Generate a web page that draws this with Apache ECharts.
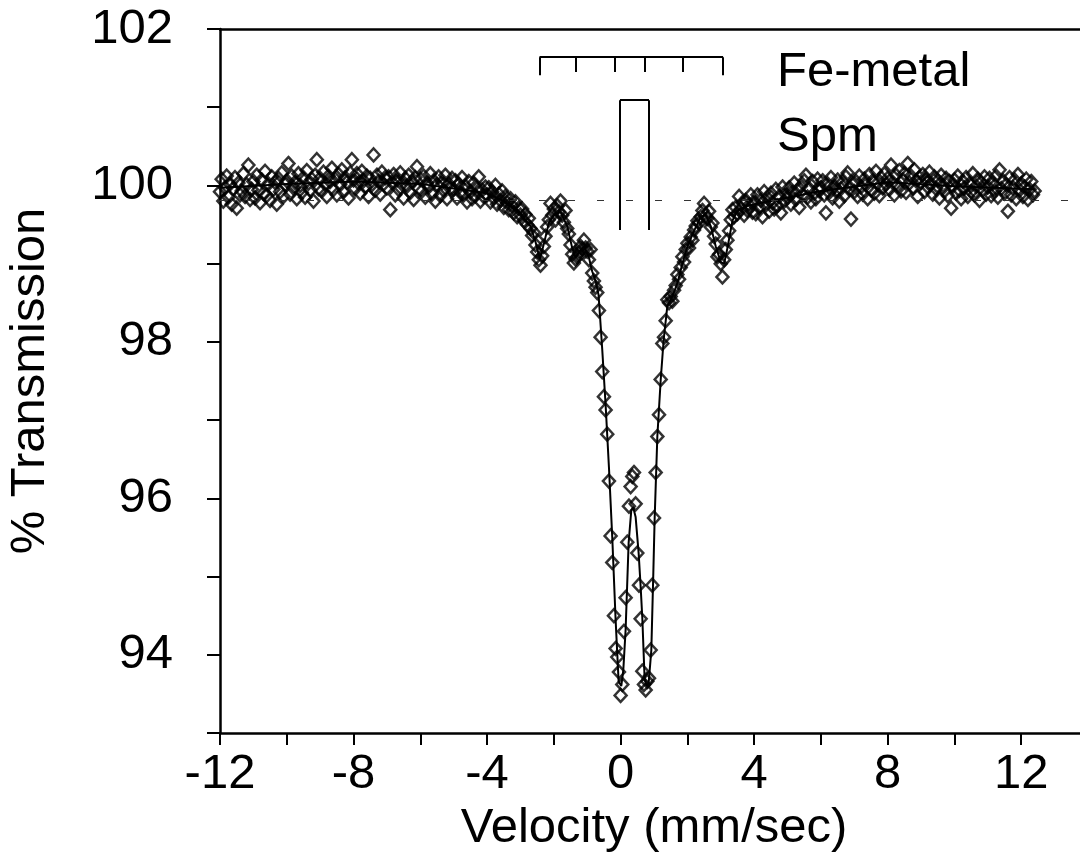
<!DOCTYPE html>
<html>
<head>
<meta charset="utf-8">
<title>Mossbauer spectrum</title>
<script src="https://cdn.jsdelivr.net/npm/echarts@6/dist/echarts.min.js"></script>
<style>
  html, body { margin: 0; padding: 0; background: #fff; }
  #chart { width: 1080px; height: 855px; }
</style>
</head>
<body>
<div id="chart"></div>
<script>
// first channel velocity and channel step (mm/sec)
const vStart = -12.0
const vStep = 0.05

// % transmission, one row per mm/sec starting at vStart
const transmission = [
  99.92, 100.08, 99.80, 99.97, 100.12, 99.85, 100.02, 99.76, 99.96, 100.10, 99.71, 100.03, 99.88, 99.93, 100.15, 99.86, 100.01, 100.26, 99.82, 99.95, // -12
  100.05, 99.84, 100.13, 99.94, 99.78, 100.07, 99.90, 100.18, 99.87, 100.02, 99.81, 100.11, 99.95, 100.04, 99.76, 100.09, 99.92, 100.16, 99.86, 100.01, // -11
  100.06, 100.28, 99.89, 100.12, 99.97, 100.04, 99.83, 100.15, 100.00, 99.91, 100.10, 99.85, 100.19, 100.03, 99.94, 100.08, 99.80, 100.13, 100.33, 99.96, // -10
  100.09, 99.93, 100.17, 100.02, 99.86, 100.12, 100.05, 100.22, 99.95, 100.08, 99.88, 100.14, 100.01, 100.20, 99.92, 100.10, 100.04, 99.84, 100.16, 100.33, // -9
  100.07, 99.96, 100.15, 100.03, 99.90, 100.18, 100.06, 99.98, 100.12, 99.86, 100.09, 100.01, 100.39, 99.94, 100.13, 100.05, 99.89, 100.17, 100.02, 100.10, // -8
  99.97, 100.11, 99.69, 100.04, 100.14, 99.88, 100.07, 99.95, 100.16, 100.02, 99.84, 100.09, 99.99, 100.13, 99.91, 100.05, 99.82, 100.10, 100.24, 99.96, // -7
  100.08, 99.93, 100.12, 99.85, 100.03, 99.98, 100.15, 99.89, 100.06, 99.80, 100.01, 100.11, 99.87, 100.04, 99.94, 100.13, 99.83, 100.02, 99.96, 100.09, // -6
  99.95, 100.06, 99.84, 100.02, 99.91, 100.10, 99.88, 99.99, 99.79, 100.05, 99.92, 99.83, 100.03, 99.87, 99.96, 100.11, 99.80, 99.94, 99.86, 99.98, // -5
  99.88, 99.97, 99.79, 99.92, 99.84, 100.00, 99.76, 99.89, 99.81, 99.93, 99.72, 99.86, 99.78, 99.69, 99.83, 99.74, 99.65, 99.79, 99.60, 99.71, // -4
  99.62, 99.70, 99.55, 99.63, 99.50, 99.58, 99.45, 99.36, 99.40, 99.24, 99.15, 99.05, 98.98, 99.10, 99.22, 99.35, 99.47, 99.56, 99.77, 99.62, // -3
  99.70, 99.56, 99.74, 99.66, 99.80, 99.62, 99.53, 99.68, 99.45, 99.38, 99.24, 99.12, 99.01, 99.06, 99.09, 99.14, 99.22, 99.19, 99.30, 99.20, // -2
  99.16, 99.05, 99.18, 98.88, 98.78, 98.70, 98.63, 98.40, 98.06, 97.62, 97.30, 97.13, 96.82, 96.22, 95.52, 95.18, 94.50, 94.08, 93.97, 93.78, // -1
  93.48, 93.62, 94.30, 94.73, 95.44, 95.90, 96.15, 96.28, 96.33, 95.93, 95.30, 94.89, 94.46, 93.79, 93.62, 93.55, 93.66, 93.70, 94.06, 94.89, // 0
  95.75, 96.33, 96.79, 97.07, 97.52, 97.98, 98.06, 98.27, 98.54, 98.50, 98.58, 98.52, 98.66, 98.72, 98.86, 98.80, 98.95, 99.09, 99.02, 99.18, // 1
  99.26, 99.20, 99.34, 99.30, 99.43, 99.48, 99.55, 99.52, 99.60, 99.68, 99.77, 99.62, 99.58, 99.67, 99.47, 99.52, 99.35, 99.25, 99.09, 99.12, // 2
  99.00, 98.83, 99.05, 99.18, 99.30, 99.42, 99.56, 99.69, 99.60, 99.72, 99.64, 99.86, 99.70, 99.78, 99.62, 99.81, 99.68, 99.75, 99.88, 99.66, // 3
  99.79, 99.64, 99.88, 99.72, 99.81, 99.60, 99.92, 99.75, 99.84, 99.67, 99.90, 99.78, 99.70, 99.95, 99.74, 99.86, 99.65, 99.98, 99.80, 99.89, // 4
  99.84, 99.97, 99.76, 99.91, 100.03, 99.82, 99.94, 99.72, 99.99, 99.88, 100.06, 100.13, 99.85, 99.96, 99.79, 100.05, 99.90, 99.83, 100.08, 99.93, // 5
  99.97, 100.06, 99.88, 99.65, 100.02, 99.91, 100.10, 99.84, 99.99, 99.93, 100.07, 99.80, 99.96, 100.04, 99.87, 100.11, 100.16, 99.95, 99.57, 100.01, // 6
  99.92, 100.05, 99.86, 100.12, 99.98, 99.89, 100.08, 100.01, 99.83, 100.14, 99.95, 100.06, 99.90, 100.18, 100.03, 99.87, 100.10, 99.97, 100.15, 100.02, // 7
  100.09, 99.95, 100.26, 100.04, 99.88, 100.13, 100.00, 100.19, 99.93, 100.07, 100.15, 99.91, 100.28, 100.03, 100.12, 99.97, 100.20, 100.06, 99.86, 100.10, // 8
  100.04, 100.14, 99.92, 100.08, 99.98, 100.17, 100.02, 99.89, 100.11, 99.96, 100.06, 99.84, 100.13, 100.00, 99.93, 100.09, 99.87, 100.05, 99.71, 99.99, // 9
  100.07, 99.90, 100.12, 99.94, 99.83, 100.05, 99.97, 100.10, 99.86, 100.02, 99.92, 100.15, 99.88, 99.99, 100.08, 99.81, 100.04, 99.95, 100.11, 99.89, // 10
  99.98, 100.09, 99.87, 100.03, 99.93, 100.12, 99.85, 100.20, 99.96, 100.06, 99.90, 100.01, 99.67, 100.10, 99.88, 99.97, 100.07, 99.83, 100.14, 99.94, // 11
  100.02, 99.86, 99.98, 100.08, 99.82, 99.95, 100.05, 99.88, 99.93 // 12
]

// fitted curve drawn through the data
const fitVelocity = [-12, -10, -8, -6, -4, -3.5, -3.0, -2.7, -2.55, -2.42, -2.3, -2.15, -2.0, -1.8, -1.6, -1.45, -1.35, -1.25, -1.1, -0.95, -0.85,
  -0.75, -0.66, -0.55, -0.45, -0.35, -0.25, -0.15, -0.06, 0.02, 0.08, 0.15, 0.24, 0.32, 0.38, 0.45, 0.54, 0.60, 0.65, 0.72, 0.78, 0.84,
  0.92, 0.98, 1.02, 1.10, 1.20, 1.29, 1.40, 1.55, 1.70, 1.85, 2.0, 2.2, 2.4, 2.55, 2.7, 2.85, 3.0, 3.1, 3.2, 3.35, 3.5, 3.8, 4.5, 6, 8, 10, 12.4]
const fitTransmission = [99.97, 100.02, 100.05, 100.02, 99.90, 99.80, 99.64, 99.48, 99.28, 99.06, 99.25, 99.52, 99.62, 99.66, 99.48, 99.20, 99.08, 99.15, 99.22, 99.08, 98.90,
  98.78, 98.60, 97.90, 97.20, 96.40, 95.50, 94.45, 93.66, 93.60, 93.80, 94.32, 95.43, 95.85, 95.88, 95.76, 95.30, 94.87, 94.47, 93.68, 93.60, 93.64,
  94.06, 95.05, 95.75, 96.79, 97.51, 98.03, 98.46, 98.58, 98.75, 99.00, 99.22, 99.42, 99.60, 99.62, 99.48, 99.22, 99.02, 99.00, 99.20, 99.55, 99.68, 99.74, 99.80, 99.93, 100.04, 99.99, 99.95]

// stick diagrams (line positions in mm/sec)
const feMetalLines = [-2.43, -1.35, -0.18, 0.72, 1.85, 3.07]
const feMetalBar = 101.64
const feMetalOuterEnd = 101.41
const feMetalInnerEnd = 101.45
const spmLines = [-0.02, 0.85]
const spmTop = 101.09
const spmBottom = 99.43
const baseline = 99.81

const FONT = "'Liberation Sans', Arial, Helvetica, sans-serif"

const points = transmission.map((t, i) => [+(vStart + i * vStep).toFixed(2), t])
const fitData = fitVelocity.map((v, i) => [v, fitTransmission[i]])

function seg(x1, y1, x2, y2) {
  return [{ coord: [x1, y1] }, { coord: [x2, y2] }]
}

const stickLines = []
stickLines.push(seg(feMetalLines[0], feMetalBar, feMetalLines[feMetalLines.length - 1], feMetalBar))
feMetalLines.forEach((v, i) => {
  const end = (i === 0 || i === feMetalLines.length - 1) ? feMetalOuterEnd : feMetalInnerEnd
  stickLines.push(seg(v, feMetalBar, v, end))
})
stickLines.push(seg(spmLines[0], spmTop, spmLines[1], spmTop))
spmLines.forEach(v => stickLines.push(seg(v, spmTop, v, spmBottom)))

const chart = echarts.init(document.getElementById('chart'))

const option = {
  animation: false,
  backgroundColor: '#fff',
  textStyle: { fontFamily: FONT },
  grid: { left: 220, top: 29, right: -8, bottom: 122, containLabel: false, outerBoundsMode: 'none' },
  xAxis: [
    {
      type: 'value',
      min: -12,
      max: 14,
      interval: 2,
      name: 'Velocity (mm/sec)',
      nameLocation: 'middle',
      nameGap: 48,
      nameTextStyle: { fontSize: 49, color: '#000', fontFamily: FONT },
      axisLine: { onZero: false, lineStyle: { color: '#000', width: 2.5 } },
      axisTick: { inside: false, length: 12, lineStyle: { color: '#000', width: 2 } },
      axisLabel: {
        margin: 17,
        fontSize: 49,
        color: '#000',
        fontFamily: FONT,
        formatter: v => (v % 4 === 0 && v <= 12 ? String(v) : '')
      },
      splitLine: { show: false }
    },
    {
      type: 'value',
      position: 'top',
      min: -12,
      max: 14,
      axisLine: { show: true, onZero: false, lineStyle: { color: '#000', width: 2.5 } },
      axisTick: { show: false },
      axisLabel: { show: false },
      splitLine: { show: false }
    }
  ],
  yAxis: {
    type: 'value',
    min: 93,
    max: 102,
    interval: 1,
    name: '% Transmission',
    nameLocation: 'middle',
    nameGap: 165,
    nameRotate: 90,
    nameTextStyle: { fontSize: 49, color: '#000', fontFamily: FONT },
    axisLine: { show: true, onZero: false, lineStyle: { color: '#000', width: 2.5 } },
    axisTick: { show: true, inside: false, length: 13, lineStyle: { color: '#000', width: 2 } },
    axisLabel: {
      margin: 47,
      fontSize: 49,
      color: '#000',
      fontFamily: FONT,
      formatter: v => (v % 2 === 0 ? String(v) : '')
    },
    splitLine: { show: false }
  },
  graphic: [
    { type: 'text', left: 777, top: 48, style: { text: 'Fe-metal', font: '49px ' + FONT, fill: '#000' } },
    { type: 'text', left: 777, top: 113, style: { text: 'Spm', font: '49px ' + FONT, fill: '#000' } }
  ],
  series: [
    {
      name: 'fit',
      type: 'line',
      data: fitData,
      showSymbol: false,
      z: 2,
      lineStyle: { color: '#000', width: 2 },
      markLine: {
        silent: true,
        symbol: ['none', 'none'],
        label: { show: false },
        lineStyle: { color: '#000', width: 2, type: 'solid' },
        data: stickLines.concat([
          { yAxis: baseline, lineStyle: { color: '#333', width: 1, type: [7, 22] } }
        ])
      }
    },
    {
      name: 'data',
      type: 'scatter',
      data: points,
      symbol: 'diamond',
      symbolSize: [12, 13],
      z: 3,
      itemStyle: { color: 'rgba(0,0,0,0)', borderColor: '#000', borderWidth: 2.5 }
    }
  ]
}

chart.setOption(option)
</script>
</body>
</html>
